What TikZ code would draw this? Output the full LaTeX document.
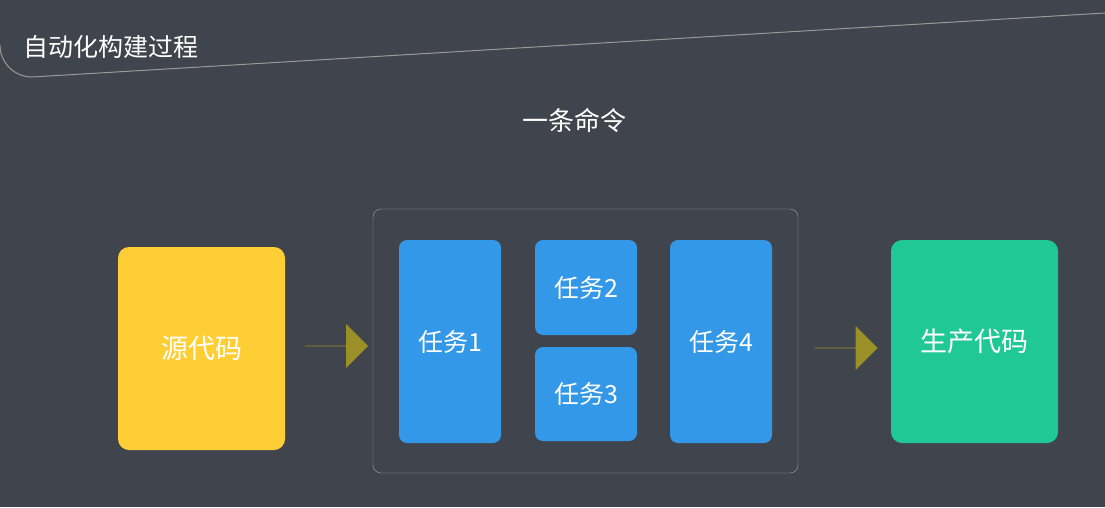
\documentclass[tikz,border=0pt]{standalone}
\usepackage{fontspec}
\setmainfont{Noto Sans CJK SC}
\usetikzlibrary{shapes.arrows}
\definecolor{bg}{HTML}{40444C}
\definecolor{yel}{HTML}{FFCE34}
\definecolor{blu}{HTML}{3498E8}
\definecolor{grn}{HTML}{20C896}
\definecolor{oli}{HTML}{9B8F27}
\begin{document}
\begin{tikzpicture}[x=1pt,y=-1pt,
 blk/.style={rounded corners=11pt,text=white,font=\fontsize{25}{28}\selectfont},
 arr/.style={fill=oli,single arrow,draw=none,minimum height=63pt,minimum width=44pt,single arrow head extend=11pt,inner sep=0pt}]
\fill[bg] (0,0) rectangle (1105,507);
\useasboundingbox (0,0) rectangle (1105,507);
\draw[gray!80,line width=1pt] (0,45) arc[start angle=180,end angle=90,radius=32] -- (1105,13);
\node[anchor=west,text=white,font=\fontsize{25}{28}\selectfont] (title) at (20,47) {自动化构建过程};
\node[text=white,font=\fontsize{26}{28}\selectfont] (cmd) at (574,121) {一条命令};
\draw[gray!70,rounded corners=8pt] (373,209) rectangle (798,473);
\path[fill=yel,blk] (118,247) rectangle (285,450);
\node[text=white,font=\fontsize{27}{30}\selectfont] (src) at (201.5,348.5) {源代码};
\path[fill=blu,blk,rounded corners=8pt] (399,240) rectangle (501,443);
\node[text=white,font=\fontsize{25}{28}\selectfont] (t1) at (450,341.5) {任务1};
\path[fill=blu,blk,rounded corners=8pt] (535,240) rectangle (637,335);
\node[text=white,font=\fontsize{25}{28}\selectfont] (t2) at (586,287.5) {任务2};
\path[fill=blu,blk,rounded corners=8pt] (535,347) rectangle (637,441);
\node[text=white,font=\fontsize{25}{28}\selectfont] (t3) at (586,394) {任务3};
\path[fill=blu,blk,rounded corners=8pt] (670,240) rectangle (772,443);
\node[text=white,font=\fontsize{25}{28}\selectfont] (t4) at (721,341.5) {任务4};
\path[fill=grn,blk] (891,240) rectangle (1058,443);
\node[text=white,font=\fontsize{27}{30}\selectfont] (prod) at (974.5,341.5) {生产代码};
\node[arr] (a1) at (336.5,346) {};
\node[arr] (a2) at (846,348) {};
\end{tikzpicture}
\end{document}
